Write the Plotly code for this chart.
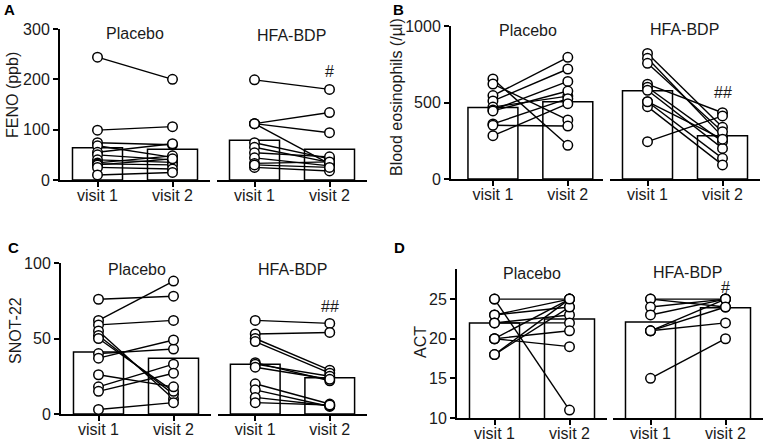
import plotly.graph_objects as go

# ---------------- data ----------------
CATEGORIES = ["visit 1", "visit 2"]
GROUPS = ["Placebo", "HFA-BDP"]

# Panel A: FENO (ppb)
A_PLACEBO_V1 = [244, 99, 74, 68, 55, 50, 40, 34, 32, 30, 25, 10]
A_PLACEBO_V2 = [200, 106, 70, 45, 72, 40, 35, 48, 30, 42, 22, 15]
A_HFA_V1 = [199, 112, 112, 112, 74, 65, 54, 44, 33, 25, 30]
A_HFA_V2 = [180, 134, 94, 32, 42, 35, 46, 28, 36, 18, 25]
A_BAR_PLACEBO = [64, 61]
A_BAR_HFA = [79, 61]

# Panel B: Blood eosinophils (/µl)
B_PLACEBO_V1 = [654, 621, 545, 510, 470, 451, 445, 360, 351, 283]
B_PLACEBO_V2 = [220, 386, 795, 719, 542, 638, 575, 525, 346, 492]
B_HFA_V1 = [821, 789, 756, 620, 600, 580, 505, 473, 244, 505]
B_HFA_V2 = [338, 277, 309, 433, 244, 200, 135, 92, 412, 260]
B_BAR_PLACEBO = [467, 505]
B_BAR_HFA = [577, 283]

# Panel C: SNOT-22
C_PLACEBO_V1 = [76, 62, 59, 55, 52, 50, 40, 37, 26, 18, 15, 3]
C_PLACEBO_V2 = [78, 88, 62, 10, 13, 15, 43, 49, 18, 33, 27, 7.5]
C_HFA_V1 = [62, 53, 50, 48, 34, 33, 31, 20, 16, 11, 7.5]
C_HFA_V2 = [60, 54, 29, 27, 22, 25, 23, 6.6, 5, 5.5, 6]
C_BAR_PLACEBO = [41, 37]
C_BAR_HFA = [33, 24]

# Panel D: ACT
D_PLACEBO_V1 = [25, 25, 23, 23, 22, 22, 20, 20, 20, 18, 18]
D_PLACEBO_V2 = [11, 25, 25, 24, 23, 22, 25, 21, 19, 24, 25]
D_HFA_V1 = [25, 25, 24, 23, 21, 21, 21, 15]
D_HFA_V2 = [25, 24, 25, 25, 25, 24, 22, 20]
D_BAR_PLACEBO = [22, 22.5]
D_BAR_HFA = [22.1, 23.9]

Y_TITLES = ["FENO (ppb)", "Blood eosinophils (/µl)", "SNOT-22", "ACT"]
PANEL_LETTERS = ["A", "B", "C", "D"]
SIG_MARKS = ["#", "##", "##", "#"]
A_TICKS = [0, 100, 200, 300]
B_TICKS = [0, 500, 1000]
C_TICKS = [0, 50, 100]
D_TICKS = [10, 15, 20, 25]

# ---------------- layout geometry (pixels) ----------------
W, H = 767, 443
FONT = "Liberation Sans, Arial, sans-serif"
TXT = "#1a1a1a"

def fx(p):
    return p / W

def fy(p):
    return 1 - p / H

panels = [
    dict(yr=[0, 300], ticks=A_TICKS, ybot=180, ytop=29,
         xp=(60, 210), xh=(217, 367), xr_p=[-0.5, 1.5], xr_h=[-0.5, 1.5],
         data=[(A_PLACEBO_V1, A_PLACEBO_V2, A_BAR_PLACEBO), (A_HFA_V1, A_HFA_V2, A_BAR_HFA)],
         ytitle=(12, 95), letter=(9, 10), titles=[(135, 34), (291, 35)], sig=215),
    dict(yr=[0, 1000], ticks=B_TICKS, ybot=179, ytop=26,
         xp=(451, 603), xh=(610, 760), xr_p=[-0.56, 1.47], xr_h=[-0.5, 1.5],
         data=[(B_PLACEBO_V1, B_PLACEBO_V2, B_BAR_PLACEBO), (B_HFA_V1, B_HFA_V2, B_BAR_HFA)],
         ytitle=(397, 97), letter=(398, 10), titles=[(528, 31), (684, 29)], sig=565),
    dict(yr=[0, 100], ticks=C_TICKS, ybot=414, ytop=263,
         xp=(61, 211), xh=(218, 367), xr_p=[-0.5, 1.5], xr_h=[-0.5, 1.5],
         data=[(C_PLACEBO_V1, C_PLACEBO_V2, C_BAR_PLACEBO), (C_HFA_V1, C_HFA_V2, C_BAR_HFA)],
         ytitle=(15, 331), letter=(14, 247), titles=[(137, 269), (292, 269)], sig=71),
    dict(yr=[10, 28.8], ticks=D_TICKS, ybot=418, ytop=269,
         xp=(457, 607), xh=(613, 763), xr_p=[-0.5, 1.5], xr_h=[-0.5, 1.5],
         data=[(D_PLACEBO_V1, D_PLACEBO_V2, D_BAR_PLACEBO), (D_HFA_V1, D_HFA_V2, D_BAR_HFA)],
         ytitle=(420, 342), letter=(399, 247), titles=[(532, 273), (687, 272)], sig=26.5),
]

fig = go.Figure()
layout = dict(
    width=W, height=H, margin=dict(l=0, r=0, t=0, b=0, autoexpand=False),
    paper_bgcolor="white", plot_bgcolor="white", showlegend=False,
    font=dict(family=FONT, size=16, color=TXT),
)
annotations = []

axis_idx = 0
for pi, p in enumerate(panels):
    for gi in range(2):
        axis_idx += 1
        sfx = "" if axis_idx == 1 else str(axis_idx)
        xref, yref = "x" + sfx, "y" + sfx
        xpix = p["xp"] if gi == 0 else p["xh"]
        xr = p["xr_p"] if gi == 0 else p["xr_h"]
        layout["xaxis" + sfx] = dict(
            domain=[fx(xpix[0]), fx(xpix[1])], range=xr, anchor=yref,
            showline=True, linecolor="black", linewidth=2, mirror=False,
            ticks="outside", ticklen=5, tickwidth=2, tickcolor="black",
            tickvals=[0, 1], ticktext=CATEGORIES, showgrid=False, zeroline=False,
            tickfont=dict(size=16, color=TXT, family=FONT), fixedrange=True,
            automargin=False, ticklabelstandoff=-5,
        )
        ya = dict(
            domain=[fy(p["ybot"]), fy(p["ytop"])], range=p["yr"], anchor=xref,
            showgrid=False, zeroline=False, fixedrange=True, automargin=False,
        )
        if gi == 0:
            ya.update(showline=True, linecolor="black", linewidth=2,
                      ticks="outside", ticklen=5, tickwidth=2, tickcolor="black",
                      tickvals=p["ticks"], tickfont=dict(size=16, color=TXT, family=FONT))
        else:
            ya.update(visible=False)
        layout["yaxis" + sfx] = ya

        v1, v2, bars = p["data"][gi]
        fig.add_trace(go.Bar(
            x=[0, 1], y=bars, width=0.667, xaxis=xref, yaxis=yref,
            marker=dict(color="white", line=dict(color="black", width=1.5)),
            hoverinfo="skip",
        ))
        lx, ly = [], []
        for a, b in zip(v1, v2):
            lx += [0, 1, None]
            ly += [a, b, None]
        fig.add_trace(go.Scatter(
            x=lx, y=ly, mode="lines", xaxis=xref, yaxis=yref,
            line=dict(color="black", width=1.4), cliponaxis=False, hoverinfo="skip",
        ))
        mx = [0] * len(v1) + [1] * len(v2)
        my = list(v1) + list(v2)
        fig.add_trace(go.Scatter(
            x=mx, y=my, mode="markers", xaxis=xref, yaxis=yref, cliponaxis=False,
            marker=dict(size=9.5, color="white", line=dict(color="black", width=1.5)),
            hoverinfo="skip",
        ))
        # group title
        tx, ty = p["titles"][gi]
        annotations.append(dict(
            x=fx(tx), y=fy(ty), xref="paper", yref="paper", text=GROUPS[gi],
            showarrow=False, xanchor="center", yanchor="middle",
            font=dict(size=16, color=TXT, family=FONT),
        ))
        if gi == 1:
            annotations.append(dict(
                x=1, y=p["sig"], xref=xref, yref=yref, text=SIG_MARKS[pi],
                showarrow=False, xanchor="center", yanchor="middle",
                font=dict(size=16, color=TXT, family=FONT),
            ))
    # y title and panel letter
    annotations.append(dict(
        x=fx(p["ytitle"][0]), y=fy(p["ytitle"][1]), xref="paper", yref="paper",
        text=Y_TITLES[pi], textangle=-90, showarrow=False,
        xanchor="center", yanchor="middle", font=dict(size=16, color=TXT, family=FONT),
    ))
    annotations.append(dict(
        x=fx(p["letter"][0]), y=fy(p["letter"][1]), xref="paper", yref="paper",
        text="<b>" + PANEL_LETTERS[pi] + "</b>", showarrow=False,
        xanchor="center", yanchor="middle", font=dict(size=15, color="black", family=FONT),
    ))

layout["annotations"] = annotations
fig.update_layout(**layout)
fig.write_html(
    "out.html",
    config={"displayModeBar": False, "staticPlot": True},
    post_script="document.body.style.margin='0';document.body.style.overflow='hidden';",
)
